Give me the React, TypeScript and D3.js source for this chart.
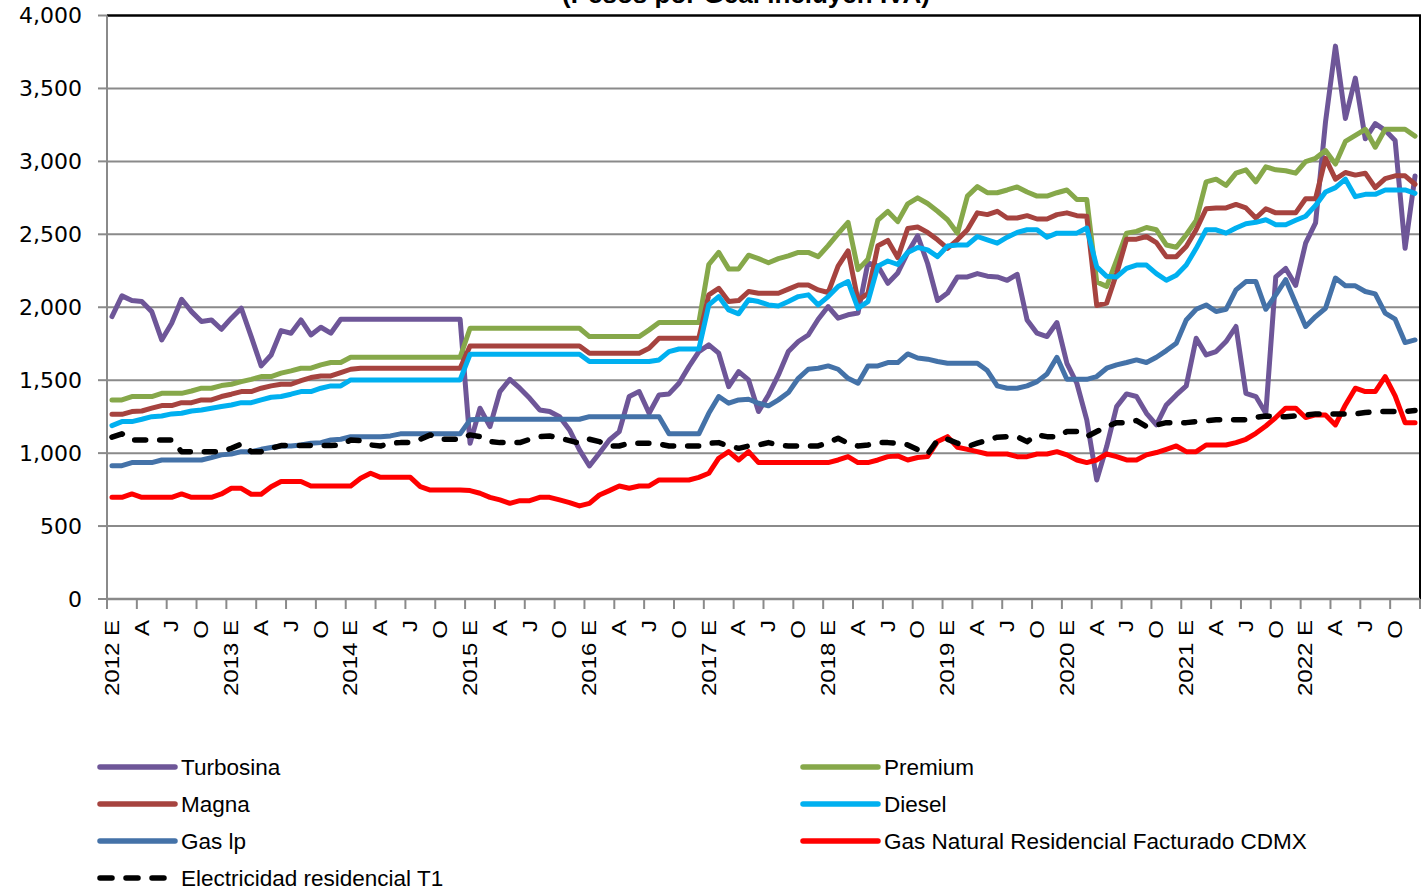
import React from "react";
import * as d3 from "d3";

const startYear = 2012;
const monthCount = 132;
const quarterLetters = ["E", "A", "J", "O"];
const yTicks = [0, 500, 1000, 1500, 2000, 2500, 3000, 3500, 4000];

const turbosina = [
  1936, 2078, 2046, 2039, 1970, 1776, 1890, 2055, 1970, 1902, 1913, 1849,
  1925, 1993, 1799, 1598, 1673, 1840, 1822, 1913, 1810, 1863, 1822, 1918,
  1918, 1918, 1918, 1918, 1918, 1918, 1918, 1918, 1918, 1918, 1918, 1918,
  1067, 1308, 1182, 1422, 1506, 1445, 1376, 1296, 1285, 1250, 1159, 1022,
  912, 999, 1090, 1148, 1388, 1422, 1273, 1399, 1406, 1479, 1593, 1696,
  1742, 1685, 1456, 1559, 1502, 1285, 1399, 1536, 1696, 1765, 1810, 1918,
  2005, 1925, 1948, 1960, 2305, 2282, 2164, 2235, 2375, 2490, 2300, 2046,
  2097, 2208, 2208, 2231, 2213, 2208, 2185, 2226, 1913, 1822, 1799, 1895,
  1616, 1479, 1228, 816, 1045, 1319, 1406, 1388, 1273, 1193, 1330, 1399,
  1461, 1788, 1673, 1696, 1765, 1868, 1410, 1388, 1273, 2208, 2266, 2150,
  2439, 2578, 3270, 3790, 3294, 3571, 3155, 3259, 3213, 3143, 2404, 2900,
];

const premium = [
  1365, 1365, 1388, 1388, 1388, 1410, 1410, 1410, 1426, 1445, 1445, 1463,
  1472, 1490, 1506, 1525, 1525, 1548, 1564, 1582, 1582, 1605, 1621, 1621,
  1657, 1657, 1657, 1657, 1657, 1657, 1657, 1657, 1657, 1657, 1657, 1657,
  1856, 1856, 1856, 1856, 1856, 1856, 1856, 1856, 1856, 1856, 1856, 1856,
  1799, 1799, 1799, 1799, 1799, 1799, 1845, 1895, 1895, 1895, 1895, 1895,
  2293, 2376, 2263, 2263, 2357, 2333, 2305, 2333, 2352, 2376, 2376, 2347,
  2422, 2505, 2582, 2258, 2329, 2598, 2657, 2587, 2709, 2750, 2711, 2658,
  2600, 2508, 2762, 2827, 2785, 2785, 2804, 2825, 2790, 2762, 2762, 2785,
  2804, 2739, 2739, 2173, 2143, 2323, 2508, 2520, 2547, 2531, 2427, 2411,
  2497, 2596, 2859, 2878, 2836, 2919, 2942, 2859, 2963, 2942, 2936, 2919,
  2998, 3021, 3074, 2982, 3137, 3178, 3220, 3097, 3220, 3220, 3220, 3173,
];

const magna = [
  1266, 1266, 1285, 1289, 1308, 1326, 1326, 1346, 1346, 1365, 1365, 1388,
  1404, 1422, 1422, 1445, 1461, 1472, 1472, 1497, 1518, 1529, 1529, 1552,
  1575, 1582, 1582, 1582, 1582, 1582, 1582, 1582, 1582, 1582, 1582, 1582,
  1735, 1735, 1735, 1735, 1735, 1735, 1735, 1735, 1735, 1735, 1735, 1735,
  1685, 1685, 1685, 1685, 1685, 1685, 1719, 1788, 1788, 1788, 1788, 1788,
  2085, 2130, 2039, 2046, 2108, 2096, 2096, 2096, 2124, 2153, 2153, 2119,
  2101, 2282, 2387, 2047, 2094, 2422, 2458, 2340, 2540, 2550, 2513, 2462,
  2404, 2462, 2531, 2647, 2635, 2658, 2612, 2612, 2628, 2605, 2605, 2635,
  2647, 2628, 2624, 2012, 2028, 2231, 2467, 2467, 2485, 2443, 2347, 2347,
  2416, 2531, 2675, 2681, 2681, 2705, 2681, 2612, 2675, 2647, 2647, 2647,
  2744, 2744, 3021, 2878, 2924, 2906, 2919, 2820, 2882, 2901, 2901, 2843,
];

const diesel = [
  1189, 1216, 1216, 1232, 1250, 1255, 1269, 1273, 1289, 1296, 1308, 1319,
  1330, 1346, 1346, 1365, 1383, 1388, 1404, 1422, 1422, 1445, 1461, 1461,
  1502, 1502, 1502, 1502, 1502, 1502, 1502, 1502, 1502, 1502, 1502, 1502,
  1678, 1678, 1678, 1678, 1678, 1678, 1678, 1678, 1678, 1678, 1678, 1678,
  1628, 1628, 1628, 1628, 1628, 1628, 1628, 1639, 1696, 1714, 1714, 1714,
  2016, 2073, 1982, 1955, 2051, 2039, 2016, 2009, 2039, 2073, 2085, 2016,
  2073, 2142, 2176, 1993, 2039, 2282, 2317, 2293, 2376, 2410, 2393, 2347,
  2420, 2427, 2427, 2485, 2462, 2439, 2480, 2513, 2531, 2531, 2480, 2508,
  2508, 2508, 2543, 2277, 2212, 2208, 2266, 2289, 2289, 2231, 2185, 2219,
  2289, 2404, 2531, 2531, 2508, 2543, 2573, 2582, 2600, 2566, 2566, 2596,
  2624, 2698, 2790, 2820, 2878, 2758, 2774, 2774, 2804, 2804, 2804, 2781,
];

const gasLp = [
  914, 914, 935, 935, 935, 953, 953, 953, 953, 953, 969, 988,
  994, 1010, 1010, 1026, 1038, 1049, 1049, 1056, 1068, 1072, 1090, 1095,
  1113, 1113, 1113, 1113, 1118, 1132, 1132, 1132, 1132, 1132, 1132, 1132,
  1228, 1232, 1232, 1232, 1232, 1232, 1232, 1232, 1232, 1232, 1232, 1232,
  1250, 1250, 1250, 1250, 1250, 1250, 1250, 1250, 1132, 1132, 1132, 1132,
  1273, 1388, 1342, 1365, 1369, 1342, 1324, 1365, 1415, 1513, 1575, 1582,
  1598, 1575, 1513, 1479, 1598, 1598, 1621, 1621, 1680, 1652, 1644, 1628,
  1616, 1616, 1616, 1616, 1566, 1461, 1445, 1445, 1461, 1490, 1543, 1657,
  1506, 1506, 1506, 1525, 1582, 1605, 1621, 1639, 1621, 1657, 1703, 1753,
  1913, 1986, 2016, 1971, 1986, 2119, 2176, 2176, 1986, 2085, 2189, 2028,
  1868, 1936, 1993, 2200, 2147, 2147, 2108, 2092, 1959, 1918, 1758, 1776,
];

const gasNatural = [
  697, 697, 720, 697, 697, 697, 697, 720, 697, 697, 697, 720,
  759, 759, 718, 718, 770, 805, 805, 805, 775, 775, 775, 775,
  775, 828, 862, 834, 834, 834, 834, 770, 747, 747, 747, 747,
  743, 725, 697, 679, 656, 674, 674, 697, 697, 679, 661, 638,
  656, 713, 743, 775, 759, 775, 775, 816, 816, 816, 816, 834,
  862, 965, 1010, 953, 1010, 935, 935, 935, 935, 935, 935, 935,
  935, 953, 976, 935, 935, 953, 976, 981, 953, 970, 976, 1079,
  1113, 1040, 1026, 1010, 994, 994, 994, 976, 976, 994, 994, 1010,
  988, 953, 935, 953, 994, 976, 953, 953, 988, 1004, 1026, 1049,
  1010, 1010, 1056, 1056, 1056, 1072, 1095, 1136, 1186, 1244, 1308, 1308,
  1244, 1262, 1262, 1193, 1330, 1445, 1422, 1422, 1525, 1392, 1209, 1209,
];

const electricidad = [
  1109, 1132, 1090, 1090, 1090, 1090, 1090, 1010, 1010, 1010, 1010, 1010,
  1033, 1063, 1010, 1010, 1033, 1052, 1052, 1052, 1052, 1052, 1052, 1056,
  1090, 1086, 1056, 1049, 1068, 1072, 1072, 1095, 1125, 1095, 1095, 1095,
  1125, 1113, 1079, 1072, 1072, 1072, 1095, 1113, 1118, 1102, 1086, 1068,
  1095, 1079, 1049, 1049, 1068, 1068, 1068, 1063, 1049, 1049, 1049, 1049,
  1068, 1072, 1049, 1033, 1049, 1056, 1072, 1056, 1049, 1049, 1049, 1049,
  1072, 1102, 1068, 1049, 1056, 1072, 1072, 1068, 1056, 1024, 994, 1090,
  1095, 1068, 1045, 1068, 1090, 1109, 1113, 1113, 1079, 1125, 1113, 1113,
  1148, 1148, 1113, 1148, 1182, 1209, 1209, 1223, 1182, 1193, 1209, 1209,
  1209, 1216, 1223, 1228, 1228, 1228, 1228, 1246, 1255, 1250, 1250, 1255,
  1262, 1269, 1269, 1269, 1269, 1269, 1278, 1285, 1285, 1285, 1285, 1292,
];

const seriesNames = [
  "Turbosina",
  "Premium",
  "Magna",
  "Diesel",
  "Gas lp",
  "Gas Natural Residencial Facturado CDMX",
  "Electricidad residencial T1",
];
const seriesValues = [turbosina, premium, magna, diesel, gasLp, gasNatural, electricidad];
const seriesColors = ["#6E5698", "#86A84A", "#A6433F", "#00B0F0", "#4472A8", "#FF0000", "#000000"];
const seriesDashed = [false, false, false, false, false, false, true];

// legend layout: rows/columns as in the original (row-wise filling, 2 columns)
const legendCol = [0, 1, 0, 1, 0, 1, 0];
const legendRow = [0, 0, 1, 1, 2, 2, 3];

export default function App() {
  const W = 1422;
  const H = 889;
  const left = 107;
  const right = 1420;
  const top = 15.5;
  const bottom = 599;

  const x = d3.scaleLinear().domain([0, monthCount]).range([left, right]);
  const y = d3.scaleLinear().domain([0, 4000]).range([bottom, top]);

  const line = d3
    .line<number>()
    .x((_, i) => x(i + 0.5))
    .y((d) => y(d));

  const tickIdx = d3.range(0, monthCount + 1, 3);
  const labelIdx = d3.range(0, monthCount, 3);

  const labelText = (i: number) =>
    i % 12 === 0 ? `${startYear + i / 12} E` : quarterLetters[(i % 12) / 3];

  const legendX = [100, 803];
  const legendY0 = 767;
  const legendDY = 37;

  return (
    <svg
      width={W}
      height={H}
      style={{ position: "absolute", left: 0, top: 0, background: "#fff" }}
    >
      <rect x={0} y={0} width={W} height={H} fill="#fff" />
      <text
        x={746}
        y={3}
        textAnchor="middle"
        fontFamily="Liberation Sans, Arial, sans-serif"
        fontWeight="bold"
        fontSize={26}
        fill="#000"
      >
        (Pesos por  Gcal incluyen IVA)
      </text>

      {/* gridlines */}
      {yTicks
        .filter((t) => t > 0 && t < 4000)
        .map((t) => (
          <line key={t} x1={left} x2={right} y1={y(t)} y2={y(t)} stroke="#8A8A8A" strokeWidth={2} />
        ))}
      {/* frame top & right */}
      <line x1={left} x2={right + 1} y1={y(4000)} y2={y(4000)} stroke="#000" strokeWidth={2.5} />
      <line x1={right} x2={right} y1={y(4000)} y2={bottom} stroke="#000" strokeWidth={2} />
      {/* y axis */}
      <line x1={left} x2={left} y1={y(4000)} y2={bottom} stroke="#8A8A8A" strokeWidth={2} />
      {yTicks.map((t) => (
        <g key={t}>
          <line x1={left - 9} x2={left} y1={y(t)} y2={y(t)} stroke="#8A8A8A" strokeWidth={2} />
          <text
            x={82}
            y={y(t)}
            textAnchor="end"
            dominantBaseline="central"
            fontFamily="DejaVu Sans, Verdana, sans-serif"
            fontSize={22}
            fill="#000"
          >
            {d3.format(",")(t)}
          </text>
        </g>
      ))}
      {/* x axis */}
      <line x1={left} x2={right} y1={bottom} y2={bottom} stroke="#8A8A8A" strokeWidth={2.5} />
      {tickIdx.map((i) => (
        <line key={i} x1={x(i)} x2={x(i)} y1={bottom} y2={bottom + 10} stroke="#8A8A8A" strokeWidth={2} />
      ))}
      {labelIdx.map((i) => (
        <text
          key={i}
          transform={`translate(${x(i + 0.5)},${620}) rotate(-90) scale(1.2,1)`}
          textAnchor="end"
          dominantBaseline="central"
          fontFamily="Liberation Sans, Arial, sans-serif"
          fontSize={20}
          fill="#000"
        >
          {labelText(i)}
        </text>
      ))}

      {/* series */}
      {seriesValues.map((vals, s) => (
        <path
          key={seriesNames[s]}
          d={line(vals) || ""}
          fill="none"
          stroke={seriesColors[s]}
          strokeWidth={seriesDashed[s] ? 5.5 : 5}
          strokeLinejoin="round"
          strokeLinecap="round"
          strokeDasharray={seriesDashed[s] ? "11 14" : undefined}
        />
      ))}

      {/* legend */}
      {seriesNames.map((name, s) => {
        const lx = legendX[legendCol[s]];
        const ly = legendY0 + legendRow[s] * legendDY;
        return (
          <g key={name}>
            <line
              x1={lx}
              x2={lx + (seriesDashed[s] ? 72 : 75)}
              y1={ly}
              y2={ly}
              stroke={seriesColors[s]}
              strokeWidth={5.5}
              strokeLinecap="round"
              strokeDasharray={seriesDashed[s] ? "12 14" : undefined}
            />
            <text
              x={lx + 81}
              y={ly}
              dominantBaseline="central"
              fontFamily="Liberation Sans, Arial, sans-serif"
              fontSize={22.5}
              fill="#000"
            >
              {name}
            </text>
          </g>
        );
      })}
    </svg>
  );
}
